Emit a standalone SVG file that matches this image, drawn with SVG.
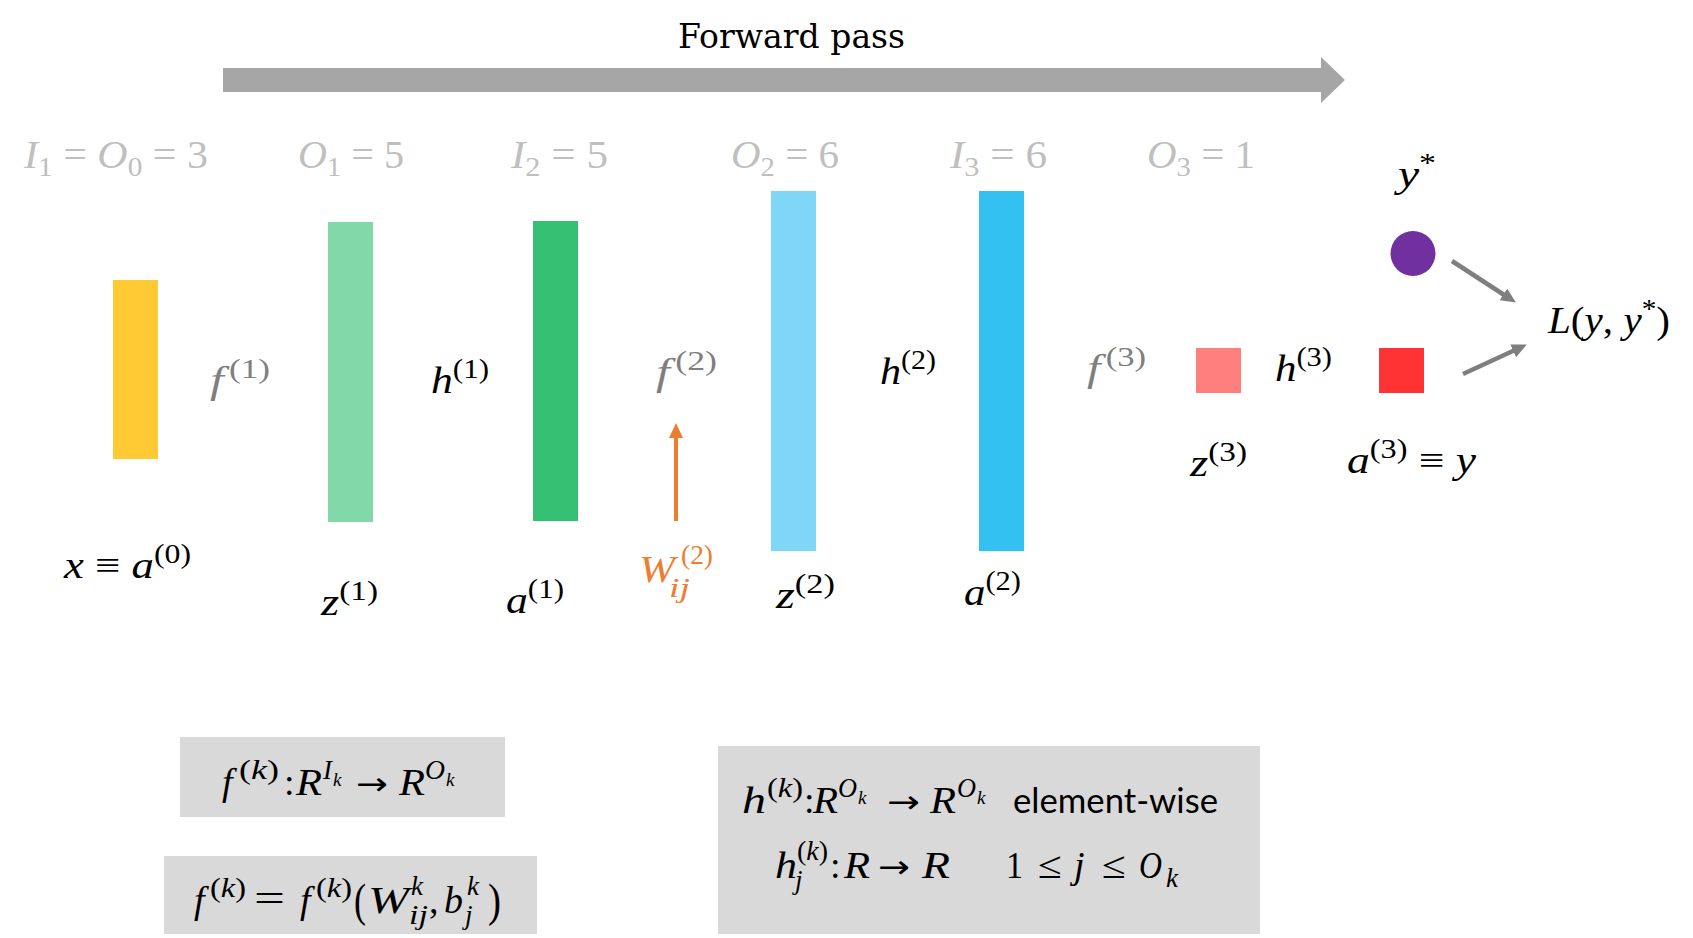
<svg xmlns="http://www.w3.org/2000/svg" width="1693" height="938" viewBox="0 0 1693 938">
<style>
.m{font-family:"Liberation Serif","DejaVu Serif",serif;}
.i{font-style:italic;}
.lg{fill:#bfbfbf;font-size:40px;}
.l{font-size:38px;}
.b{font-size:38px;fill:#000;}
.g7{fill:#7f7f7f;}
.bk{fill:#000;}
.or{fill:#ed7d31;}
.box{fill:#d9d9d9;}
.sp{font-size:27px;}
.ss{font-size:19px;}
.ar{font-family:"DejaVu Sans",sans-serif;font-size:32px;}
.title{font-family:"DejaVu Serif",serif;font-size:33px;fill:#000;}
.txt{font-family:Lato,"Open Sans",sans-serif;font-size:35px;fill:#000;}
</style>
<defs>
<marker id="hg" markerUnits="userSpaceOnUse" markerWidth="16" markerHeight="14" refX="2" refY="7" orient="auto"><path d="M0,0 L15,7 L0,14 z" fill="#7f7f7f"/></marker>
<marker id="ho" markerUnits="userSpaceOnUse" markerWidth="16" markerHeight="14" refX="2" refY="7" orient="auto"><path d="M0,0 L15,7 L0,14 z" fill="#ed7d31"/></marker>
</defs>
<rect width="1693" height="938" fill="#fff"/>

<g id="title"><text class="title" x="678" y="48" textLength="227" lengthAdjust="spacingAndGlyphs">Forward pass</text></g>

<g id="dims" class="m">
<text class="lg" x="24" y="168" textLength="184" lengthAdjust="spacingAndGlyphs"><tspan class="i">I</tspan><tspan dy="8" font-size="28">1</tspan><tspan dy="-8"> = </tspan><tspan class="i">O</tspan><tspan dy="8" font-size="28">0</tspan><tspan dy="-8"> = 3</tspan></text>
<text class="lg" x="298" y="168" textLength="106" lengthAdjust="spacingAndGlyphs"><tspan class="i">O</tspan><tspan dy="8" font-size="28">1</tspan><tspan dy="-8"> = 5</tspan></text>
<text class="lg" x="511" y="168" textLength="97" lengthAdjust="spacingAndGlyphs"><tspan class="i">I</tspan><tspan dy="8" font-size="28">2</tspan><tspan dy="-8"> = 5</tspan></text>
<text class="lg" x="731" y="168" textLength="108" lengthAdjust="spacingAndGlyphs"><tspan class="i">O</tspan><tspan dy="8" font-size="28">2</tspan><tspan dy="-8"> = 6</tspan></text>
<text class="lg" x="950" y="168" textLength="97" lengthAdjust="spacingAndGlyphs"><tspan class="i">I</tspan><tspan dy="8" font-size="28">3</tspan><tspan dy="-8"> = 6</tspan></text>
<text class="lg" x="1147" y="168" textLength="108" lengthAdjust="spacingAndGlyphs"><tspan class="i">O</tspan><tspan dy="8" font-size="28">3</tspan><tspan dy="-8"> = 1</tspan></text>
</g>

<g id="connectors">
<polygon points="223,68 1321,68 1321,57 1345,80 1321,103 1321,92 223,92" fill="#a6a6a6"/>
<line x1="676" y1="521" x2="676" y2="436" stroke="#ed7d31" stroke-width="4" marker-end="url(#ho)"/>
<line x1="1452" y1="261" x2="1505" y2="295.5" stroke="#7f7f7f" stroke-width="4.5" marker-end="url(#hg)"/>
<line x1="1463" y1="374" x2="1515" y2="350" stroke="#7f7f7f" stroke-width="4.5" marker-end="url(#hg)"/>
</g>

<g id="node-x">
<rect x="113" y="280" width="45" height="179" fill="#ffca33"/>
<text class="m l bk" x="64" y="578" textLength="127" lengthAdjust="spacingAndGlyphs"><tspan class="i">x</tspan> ≡ <tspan class="i">a</tspan><tspan dy="-15" font-size="27">(0)</tspan></text>
</g>
<g id="op-f1"><text class="m l g7" x="210" y="393" textLength="60" lengthAdjust="spacingAndGlyphs"><tspan class="i">f</tspan><tspan dx="4" dy="-15" font-size="27">(1)</tspan></text></g>
<g id="node-z1">
<rect x="328" y="222" width="45" height="300" fill="#82d8a9"/>
<text class="m l bk" x="321" y="615" textLength="57" lengthAdjust="spacingAndGlyphs"><tspan class="i">z</tspan><tspan dy="-15" font-size="27">(1)</tspan></text>
</g>
<g id="op-h1"><text class="m l bk" x="431" y="393" textLength="58" lengthAdjust="spacingAndGlyphs"><tspan class="i">h</tspan><tspan dy="-15" font-size="27">(1)</tspan></text></g>
<g id="node-a1">
<rect x="533" y="221" width="45" height="300" fill="#34bf72"/>
<text class="m l bk" x="506" y="613" textLength="58" lengthAdjust="spacingAndGlyphs"><tspan class="i">a</tspan><tspan dy="-15" font-size="27">(1)</tspan></text>
</g>
<g id="op-f2"><text class="m l g7" x="656" y="385" textLength="61" lengthAdjust="spacingAndGlyphs"><tspan class="i">f</tspan><tspan dx="4" dy="-15" font-size="27">(2)</tspan></text></g>
<g id="weight-W2" class="m or">
<text class="i" x="639" y="582" font-size="38" textLength="36" lengthAdjust="spacingAndGlyphs">W</text>
<text class="i" x="669" y="597" font-size="28" textLength="21" lengthAdjust="spacingAndGlyphs">ij</text>
<text x="681" y="564" font-size="27" textLength="32" lengthAdjust="spacingAndGlyphs">(2)</text>
</g>
<g id="node-z2">
<rect x="771" y="191" width="45" height="360" fill="#7fd6f7"/>
<text class="m l bk" x="776" y="608" textLength="59" lengthAdjust="spacingAndGlyphs"><tspan class="i">z</tspan><tspan dy="-15" font-size="27">(2)</tspan></text>
</g>
<g id="op-h2"><text class="m l bk" x="880" y="384" textLength="56" lengthAdjust="spacingAndGlyphs"><tspan class="i">h</tspan><tspan dy="-15" font-size="27">(2)</tspan></text></g>
<g id="node-a2">
<rect x="979" y="191" width="45" height="360" fill="#33c1f2"/>
<text class="m l bk" x="964" y="605" textLength="57" lengthAdjust="spacingAndGlyphs"><tspan class="i">a</tspan><tspan dy="-15" font-size="27">(2)</tspan></text>
</g>
<g id="op-f3"><text class="m l g7" x="1087" y="381" textLength="59" lengthAdjust="spacingAndGlyphs"><tspan class="i">f</tspan><tspan dx="4" dy="-15" font-size="27">(3)</tspan></text></g>
<g id="node-z3">
<rect x="1196" y="348" width="45" height="45" fill="#ff7f7f"/>
<text class="m l bk" x="1190" y="476" textLength="57" lengthAdjust="spacingAndGlyphs"><tspan class="i">z</tspan><tspan dy="-15" font-size="27">(3)</tspan></text>
</g>
<g id="op-h3"><text class="m l bk" x="1275" y="381" textLength="57" lengthAdjust="spacingAndGlyphs"><tspan class="i">h</tspan><tspan dy="-15" font-size="27">(3)</tspan></text></g>
<g id="node-a3">
<rect x="1379" y="348" width="45" height="45" fill="#ff3333"/>
<text class="m l bk" x="1347" y="473" textLength="129" lengthAdjust="spacingAndGlyphs"><tspan class="i">a</tspan><tspan dy="-15" font-size="27">(3)</tspan><tspan dy="15"> ≡ </tspan><tspan class="i">y</tspan></text>
</g>
<g id="node-ystar">
<circle cx="1413" cy="253.5" r="22.5" fill="#7030a0"/>
<text class="m l bk" x="1398" y="187" textLength="38" lengthAdjust="spacingAndGlyphs"><tspan class="i">y</tspan><tspan dy="-15" font-size="27">*</tspan></text>
</g>
<g id="node-loss">
<text class="m l bk" x="1548" y="333" textLength="122" lengthAdjust="spacingAndGlyphs"><tspan class="i">L</tspan>(<tspan class="i">y</tspan>, <tspan class="i">y</tspan><tspan dy="-15" font-size="27">*</tspan><tspan dy="15">)</tspan></text>
</g>

<g id="box-f-map" class="m b">
<rect class="box" x="180" y="737" width="325" height="80"/>
<text class="i" x="222" y="795">f</text>
<text class="sp" x="239" y="779" textLength="40" lengthAdjust="spacingAndGlyphs">(<tspan class="i">k</tspan>)</text>
<text x="284" y="795">:</text>
<text class="i" x="296" y="795" textLength="26" lengthAdjust="spacingAndGlyphs">R</text>
<text class="i sp" x="323" y="779">I</text>
<text class="i ss" x="333" y="786">k</text>
<text class="ar" x="356" y="795" textLength="32" lengthAdjust="spacingAndGlyphs">→</text>
<text class="i" x="399" y="795" textLength="26" lengthAdjust="spacingAndGlyphs">R</text>
<text class="i sp" x="425" y="779" textLength="20" lengthAdjust="spacingAndGlyphs">O</text>
<text class="i ss" x="446" y="786">k</text>
</g>

<g id="box-f-params" class="m b">
<rect class="box" x="164" y="856" width="373" height="78"/>
<text class="i" x="194" y="913">f</text>
<text class="sp" x="210" y="897" textLength="36" lengthAdjust="spacingAndGlyphs">(<tspan class="i">k</tspan>)</text>
<text x="254" y="911" textLength="31" lengthAdjust="spacingAndGlyphs">=</text>
<text class="i" x="300" y="913">f</text>
<text class="sp" x="316" y="897" textLength="36" lengthAdjust="spacingAndGlyphs">(<tspan class="i">k</tspan>)</text>
<text x="354" y="916" font-size="46" textLength="12" lengthAdjust="spacingAndGlyphs">(</text>
<text class="i" x="368" y="913" textLength="41" lengthAdjust="spacingAndGlyphs">W</text>
<text class="i sp" x="411" y="895">k</text>
<text class="i sp" x="409" y="924" textLength="19" lengthAdjust="spacingAndGlyphs">ij</text>
<text x="429" y="913">,</text>
<text class="i" x="444" y="913" textLength="19" lengthAdjust="spacingAndGlyphs">b</text>
<text class="i sp" x="467" y="895">k</text>
<text class="i sp" x="465" y="924">j</text>
<text x="488" y="916" font-size="46" textLength="13" lengthAdjust="spacingAndGlyphs">)</text>
</g>

<g id="box-h" class="m b">
<rect class="box" x="718" y="746" width="542" height="188"/>
<text class="i" x="742" y="813" textLength="24" lengthAdjust="spacingAndGlyphs">h</text>
<text class="sp" x="767" y="797" textLength="36" lengthAdjust="spacingAndGlyphs">(<tspan class="i">k</tspan>)</text>
<text x="804" y="813">:</text>
<text class="i" x="813" y="813" textLength="25" lengthAdjust="spacingAndGlyphs">R</text>
<text class="i sp" x="838" y="797" textLength="19" lengthAdjust="spacingAndGlyphs">O</text>
<text class="i ss" x="858" y="804">k</text>
<text class="ar" x="887" y="813" textLength="33" lengthAdjust="spacingAndGlyphs">→</text>
<text class="i" x="930" y="813" textLength="26" lengthAdjust="spacingAndGlyphs">R</text>
<text class="i sp" x="957" y="797" textLength="19" lengthAdjust="spacingAndGlyphs">O</text>
<text class="i ss" x="977" y="804">k</text>
<text class="txt" x="1013" y="813" textLength="205" lengthAdjust="spacingAndGlyphs">element-wise</text>
<text class="i" x="775" y="878" textLength="22" lengthAdjust="spacingAndGlyphs">h</text>
<text class="sp" x="797" y="860" textLength="31" lengthAdjust="spacingAndGlyphs">(<tspan class="i">k</tspan>)</text>
<text class="i sp" x="795" y="889">j</text>
<text x="830" y="878">:</text>
<text class="i" x="844" y="878" textLength="26" lengthAdjust="spacingAndGlyphs">R</text>
<text class="ar" x="878" y="878" textLength="32" lengthAdjust="spacingAndGlyphs">→</text>
<text class="i" x="922" y="878" textLength="28" lengthAdjust="spacingAndGlyphs">R</text>
<text x="1006" y="878" textLength="17" lengthAdjust="spacingAndGlyphs">1</text>
<text x="1038" y="878" textLength="24" lengthAdjust="spacingAndGlyphs">≤</text>
<text class="i" x="1074" y="878">j</text>
<text x="1102" y="878" textLength="24" lengthAdjust="spacingAndGlyphs">≤</text>
<text class="i" x="1139" y="878" textLength="23" lengthAdjust="spacingAndGlyphs">O</text>
<text class="i sp" x="1166" y="887">k</text>
</g>
</svg>
